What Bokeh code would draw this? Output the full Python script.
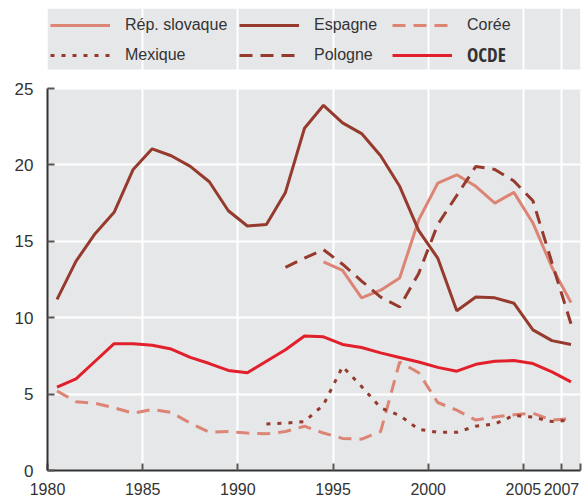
from bokeh.plotting import figure
from bokeh.models import Range1d, FixedTicker, Legend, LegendItem, BoxAnnotation
from bokeh.embed import file_html
from bokeh.resources import INLINE

# ---- data ----
years_all = list(range(1980, 2008))

espagne = [11.2, 13.7, 15.5, 16.9, 19.7, 21.05, 20.6, 19.9, 18.9, 17.0,
           16.0, 16.1, 18.2, 22.4, 23.9, 22.75, 22.05, 20.6, 18.6, 15.7,
           13.9, 10.45, 11.35, 11.3, 10.95, 9.2, 8.5, 8.25]

years_slovaque = list(range(1994, 2008))
slovaque = [13.65, 13.1, 11.3, 11.8, 12.6, 16.4, 18.8, 19.35, 18.6, 17.5,
            18.2, 16.2, 13.3, 11.0]

years_pologne = list(range(1992, 2008))
pologne = [13.3, 13.9, 14.45, 13.5, 12.4, 11.35, 10.7, 12.9, 16.1, 18.0,
           19.9, 19.7, 18.95, 17.65, 13.6, 9.6]

coree = [5.2, 4.5, 4.4, 4.1, 3.75, 4.0, 3.8, 3.1, 2.5, 2.55,
         2.45, 2.4, 2.55, 2.9, 2.45, 2.1, 2.05, 2.55, 7.1, 6.4,
         4.45, 3.95, 3.3, 3.5, 3.65, 3.75, 3.3, 3.4]

years_mexique = list(range(1991, 2008))
mexique = [3.05, 3.1, 3.2, 4.3, 6.8, 5.5, 4.1, 3.6, 2.7, 2.5,
           2.5, 2.9, 3.05, 3.6, 3.5, 3.2, 3.3]

ocde = [5.45, 6.0, 7.15, 8.3, 8.3, 8.2, 7.95, 7.4, 7.0, 6.55,
        6.4, 7.15, 7.9, 8.8, 8.75, 8.25, 8.05, 7.7, 7.4, 7.1,
        6.75, 6.5, 6.95, 7.15, 7.2, 7.0, 6.45, 5.8]

x_ticks = [1980, 1985, 1990, 1995, 2000, 2005, 2007, 2008]
y_ticks = [0, 5, 10, 15, 20, 25]
X0, X1 = 1980, 2008
Y0, Y1 = 0, 25

FONT = "Liberation Sans"
BOLD_FONT = "Open Sans Condensed"
TXT = "#333333"
DARK = "#953a2c"
SALMON = "#dc8575"
RED = "#e2202c"
BG = "#e6e7e9"


def mid(ys):
    return [y + 0.5 for y in ys]


FW, FH = 533, 462
DATA_H = 382
PX = Y1 / DATA_H           # data units per pixel (vertical)
y_top = FH * PX

p = figure(width=587, height=501, output_backend="svg", toolbar_location=None,
           x_range=Range1d(X0, X1), y_range=Range1d(Y0, y_top),
           min_border_left=47, min_border_right=7, min_border_top=8,
           min_border_bottom=31)
p.frame_width = FW
p.frame_height = FH
p.background_fill_color = "white"
p.border_fill_color = "white"
p.outline_line_color = None

# grey plotting area
p.add_layout(BoxAnnotation(left=X0, right=X1, bottom=Y0, top=Y1,
                           fill_color=BG, fill_alpha=1, line_color=None,
                           level="image"))
# grey legend band: 19 px above the plotting area, 61 px tall
p.add_layout(BoxAnnotation(left=X0, right=X1, bottom=Y1 + 19 * PX,
                           top=Y1 + 80 * PX,
                           fill_color=BG, fill_alpha=1, line_color=None,
                           level="image"))

r_slo = p.line(mid(years_slovaque), slovaque, line_color=SALMON, line_width=3)
r_esp = p.line(mid(years_all), espagne, line_color=DARK, line_width=3)
r_cor = p.line(mid(years_all), coree, line_color=SALMON, line_width=3,
               line_dash="13 8")
r_mex = p.line(mid(years_mexique), mexique, line_color=DARK, line_width=3,
               line_dash="4 7")
r_pol = p.line(mid(years_pologne), pologne, line_color=DARK, line_width=3,
               line_dash="13 8")
r_oc = p.line(mid(years_all), ocde, line_color=RED, line_width=3)

for ax in (p.xaxis[0], p.yaxis[0]):
    ax.axis_line_color = "#333333"
    ax.axis_line_width = 2
    ax.major_tick_line_color = "#555555"
    ax.major_tick_line_width = 2
    ax.major_tick_in = 7
    ax.major_tick_out = 0
    ax.minor_tick_line_color = None
    ax.major_label_text_font = FONT
    ax.major_label_text_color = TXT

p.xaxis.major_label_text_font_size = "16px"
p.yaxis.major_label_text_font_size = "17px"
p.xaxis.ticker = FixedTicker(ticks=x_ticks)
p.xaxis.major_label_overrides = {2008: ""}
p.xaxis.major_label_standoff = 12
p.yaxis.ticker = FixedTicker(ticks=y_ticks)
p.yaxis.bounds = (Y0, Y1)
p.yaxis.major_label_standoff = 14

p.xgrid.ticker = FixedTicker(ticks=x_ticks)
p.ygrid.ticker = FixedTicker(ticks=y_ticks)
p.xgrid.bounds = (Y0, Y1)
for g in (p.xgrid[0], p.ygrid[0]):
    g.grid_line_color = "white"
    g.grid_line_width = 2


def add_legend(items, x, vy, font=FONT, size="16px", bold=False):
    lg = Legend(items=[LegendItem(label=t, renderers=[r]) for t, r in items],
                orientation="vertical", location=(x, vy))
    lg.background_fill_alpha = 0
    lg.border_line_alpha = 0
    lg.padding = 0
    lg.margin = 0
    lg.glyph_width = 60
    lg.glyph_height = 20
    lg.label_height = 20
    lg.label_standoff = 15
    lg.spacing = 10
    lg.label_text_font = font
    lg.label_text_font_size = size
    lg.label_text_color = TXT
    if bold:
        lg.label_text_font_style = "bold"
    p.add_layout(lg, "center")


# three legend columns (frame-relative x), two rows
add_legend([("Rép. slovaque", r_slo), ("Mexique", r_mex)], 3, 405)
add_legend([("Espagne", r_esp), ("Pologne", r_pol)], 192, 405)
add_legend([("Corée", r_cor)], 345, 435)
add_legend([("OCDE", r_oc)], 345, 402, font=BOLD_FONT, size="19px", bold=True)

open("out.html", "w").write(file_html(p, INLINE))
